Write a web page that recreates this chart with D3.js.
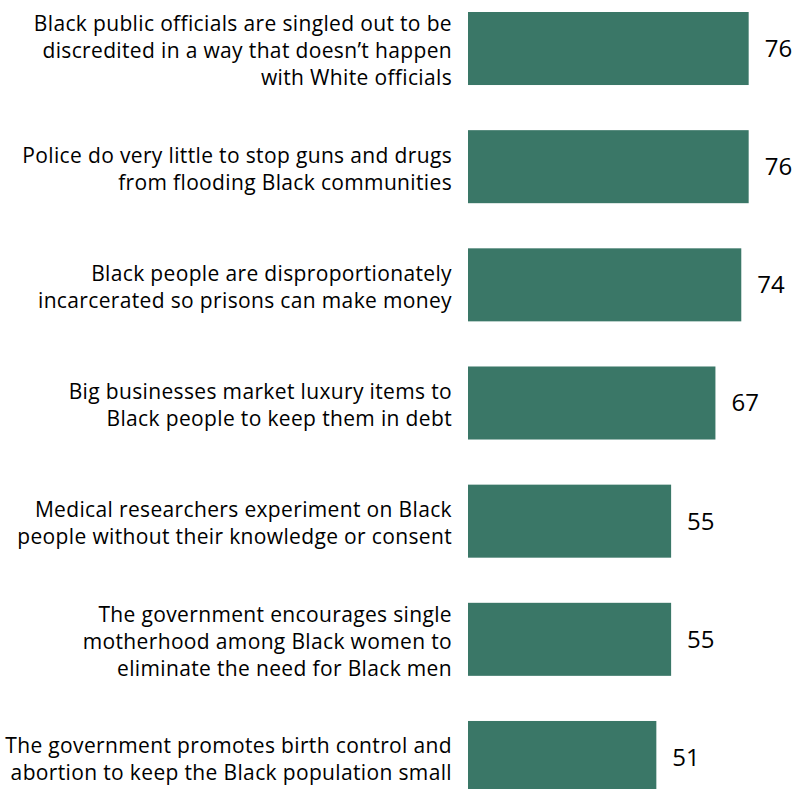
<!DOCTYPE html>
<html>
<head>
<meta charset="utf-8">
<script src="https://cdn.jsdelivr.net/npm/d3@7"></script>
<style>
  html, body { margin: 0; padding: 0; background: #fff; }
  svg { display: block; }
</style>
</head>
<body>
<svg id="chart" width="800" height="789"></svg>
<script>
// Statements, each split into the lines drawn beside its bar
const statements = [
  ["Black public officials are singled out to be", "discredited in a way that doesn\u2019t happen", "with White officials"],
  ["Police do very little to stop guns and drugs", "from flooding Black communities"],
  ["Black people are disproportionately", "incarcerated so prisons can make money"],
  ["Big businesses market luxury items to", "Black people to keep them in debt"],
  ["Medical researchers experiment on Black", "people without their knowledge or consent"],
  ["The government encourages single", "motherhood among Black women to", "eliminate the need for Black men"],
  ["The government promotes birth control and", "abortion to keep the Black population small"]
];
const values = [76, 76, 74, 67, 55, 55, 51];

const keys = statements.map((d, i) => i);
const svg = d3.select("#chart");
const font = "'Open Sans', 'Liberation Sans', Arial, sans-serif";

const y = d3.scaleBand()
  .domain(keys)
  .range([12, 794])
  .paddingInner(0.382)
  .paddingOuter(0);

const x = d3.scaleLinear()
  .domain([0, 100])
  .range([468, 837.3]);

const rows = svg.selectAll("g.row")
  .data(keys)
  .join("g")
  .attr("class", "row");

rows.append("rect")
  .attr("x", x(0))
  .attr("y", i => y(i))
  .attr("width", i => x(values[i]) - x(0))
  .attr("height", y.bandwidth())
  .attr("fill", "#3a7767");

rows.append("text")
  .attr("x", i => x(values[i]) + 16)
  .attr("y", i => y(i) + y.bandwidth() / 2)
  .attr("dy", "0.35em")
  .attr("font-family", font)
  .attr("font-size", 24)
  .attr("fill", "#000")
  .text(i => values[i]);

const lineH = 27;
rows.append("text")
  .attr("text-anchor", "end")
  .attr("font-family", font)
  .attr("font-size", 21)
  .attr("letter-spacing", "0.35px")
  .attr("fill", "#000")
  .each(function(i) {
    const lines = statements[i];
    const cy = y(i) + y.bandwidth() / 2;
    const top = cy - (lines.length - 1) * lineH / 2;
    d3.select(this).selectAll("tspan")
      .data(lines)
      .join("tspan")
      .attr("x", 452)
      .attr("y", (d, k) => top + k * lineH)
      .attr("dy", "0.45em")
      .text(d => d);
  });
</script>
</body>
</html>
